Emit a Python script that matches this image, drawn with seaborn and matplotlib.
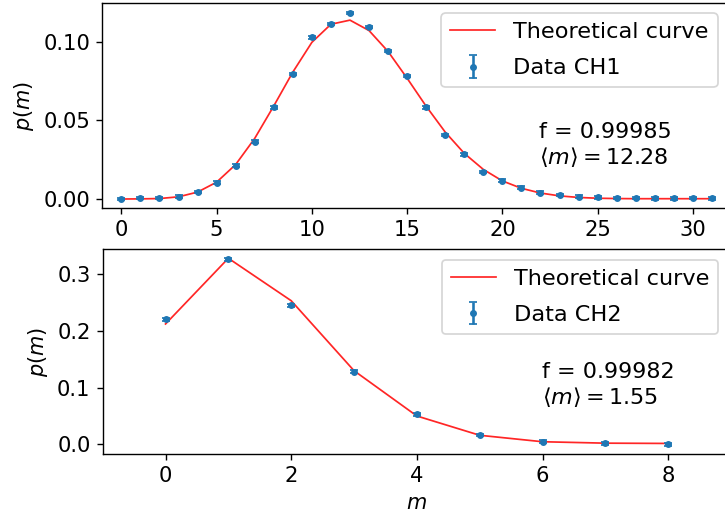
import numpy as np
import pandas as pd
import matplotlib
matplotlib.use("Agg")
import matplotlib.pyplot as plt
import seaborn as sns

# ---- data CH1 ----
m1 = list(range(32))
data_ch1 = [0.0000, 0.0005, 0.0006, 0.0015, 0.0045, 0.0104, 0.0212, 0.0364,
            0.0582, 0.0794, 0.1027, 0.1112, 0.1180, 0.1094, 0.0940, 0.0780,
            0.0582, 0.0407, 0.0284, 0.0173, 0.0116, 0.0072, 0.0040, 0.0025,
            0.0015, 0.0010, 0.0008, 0.0007, 0.0004, 0.0004, 0.0005, 0.0004]
err_ch1 = [0.0008] * 32
theory_ch1 = [0.0000, 0.0001, 0.0003, 0.0014, 0.0044, 0.0107, 0.0219, 0.0385,
              0.0591, 0.0806, 0.0995, 0.1110, 0.1136, 0.1070, 0.0937, 0.0767,
              0.0589, 0.0425, 0.0290, 0.0188, 0.0115, 0.0068, 0.0038, 0.0020,
              0.0010, 0.0005, 0.0003, 0.0002, 0.0002, 0.0002, 0.0002, 0.0002]

# ---- data CH2 ----
m2 = list(range(9))
data_ch2 = [0.2205, 0.3263, 0.2450, 0.1280, 0.0529, 0.0164, 0.0046, 0.0015, 0.0003]
err_ch2 = [0.0025] * 9
theory_ch2 = [0.2120, 0.3278, 0.2530, 0.1297, 0.0499, 0.0159, 0.0045, 0.0020, 0.0015]

text_ch1 = "f = 0.99985\n$\\langle m \\rangle = 12.28$"
text_ch2 = "f = 0.99982\n$\\langle m \\rangle = 1.55$"

plt.rcParams["font.size"] = 12.2

W, H = 725, 517
fig = plt.figure(figsize=(W / 125, H / 125), dpi=125)

ax1 = fig.add_axes([102.3 / W, 1 - 208 / H, (731 - 102.3) / W, 204.7 / H])
ax2 = fig.add_axes([102.7 / W, 1 - 454 / H, (731 - 102.7) / W, 204.7 / H])

df1 = pd.DataFrame({"m": m1, "theory": theory_ch1})
df2 = pd.DataFrame({"m": m2, "theory": theory_ch2})

sns.lineplot(data=df1, x="m", y="theory", ax=ax1, color="red", alpha=0.85,
             lw=1, label="Theoretical curve")
ax1.errorbar(m1, data_ch1, yerr=err_ch1, fmt=".", capsize=2.5,
             color="tab:blue", label="Data CH1")

sns.lineplot(data=df2, x="m", y="theory", ax=ax2, color="red", alpha=0.85,
             lw=1, label="Theoretical curve")
ax2.errorbar(m2, data_ch2, yerr=err_ch2, fmt=".", capsize=2.5,
             color="tab:blue", label="Data CH2")

ax1.set_xlim(-1, 32)
ax1.set_ylim(-0.0057, 0.1243)
ax1.set_xticks([0, 5, 10, 15, 20, 25, 30])
ax1.set_yticks([0.00, 0.05, 0.10])
ax1.set_yticklabels(["0.00", "0.05", "0.10"])
ax1.set_xlabel("")
ax1.set_ylabel("$p(m)$", fontsize=12)

ax2.set_xlim(-1, 9)
ax2.set_ylim(-0.0171, 0.3436)
ax2.set_xticks([0, 2, 4, 6, 8])
ax2.set_yticks([0.0, 0.1, 0.2, 0.3])
ax2.set_yticklabels(["0.0", "0.1", "0.2", "0.3"])
ax2.set_xlabel("$m$", fontsize=12)
ax2.set_ylabel("$p(m)$", fontsize=12)

leg_kw = dict(loc="upper right", bbox_transform=fig.transFigure,
              borderaxespad=0, fontsize=12.9, borderpad=0.4, labelspacing=0.72)
ax1.legend(bbox_to_anchor=(717.5 / W, 1 - 13.3 / H), **leg_kw)
ax2.legend(bbox_to_anchor=(718 / W, 1 - 260 / H), **leg_kw)

ax1.text(0.695, 0.4216, text_ch1, transform=ax1.transAxes, va="top", ha="left",
         fontsize=12.8)
ax2.text(0.699, 0.451, text_ch2, transform=ax2.transAxes, va="top", ha="left",
         fontsize=12.8)

fig.savefig("out.png", dpi=125)
